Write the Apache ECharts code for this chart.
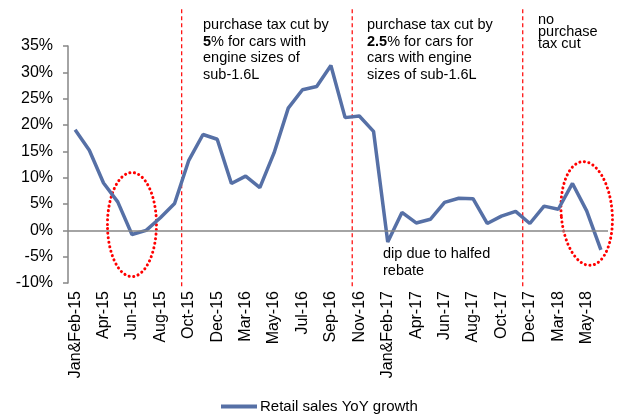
<!DOCTYPE html>
<html><head><meta charset="utf-8">
<script src="https://cdn.jsdelivr.net/npm/echarts@6/dist/echarts.min.js"></script>
<style>html,body{margin:0;padding:0;background:#fff}#c{width:617px;height:414px}</style>
</head><body><div id="c"></div>
<script>
const categories = ['Jan&Feb-15','Mar-15','Apr-15','May-15','Jun-15','Jul-15','Aug-15','Sep-15','Oct-15','Nov-15','Dec-15',
'Jan&Feb-16','Mar-16','Apr-16','May-16','Jun-16','Jul-16','Aug-16','Sep-16','Oct-16','Nov-16','Dec-16',
'Jan&Feb-17','Mar-17','Apr-17','May-17','Jun-17','Jul-17','Aug-17','Sep-17','Oct-17','Nov-17','Dec-17',
'Jan&Feb-18','Mar-18','Apr-18','May-18','Jun-18'];
const retailGrowth = [19.1,15.2,9.0,5.4,-0.8,0.0,2.4,5.1,13.3,18.2,17.3,
8.9,10.3,8.1,14.7,23.2,26.7,27.3,31.3,21.4,21.7,18.8,
-2.2,3.4,1.4,2.1,5.3,6.1,6.0,1.3,2.7,3.6,1.3,
4.6,4.0,8.9,3.7,-3.7];
const seriesName = 'Retail sales YoY growth';
const policyBreaks = [8, 20, 32];
const yMin = -10, yMax = 35, yStep = 5;

const chart = echarts.init(document.getElementById('c'));
const font = 'Liberation Sans, Arial, sans-serif';
chart.setOption({
  animation: false,
  grid: {left: 68, right: 9, top: 46, bottom: 131},
  xAxis: [{
    type: 'category', data: categories, boundaryGap: true,
    axisLine: {show: false}, axisTick: {show: false},
    axisLabel: {rotate: 90, interval: 1, margin: 8, color: '#000', fontSize: 16, fontFamily: font}
  }, {
    type: 'value', min: 0, max: categories.length, show: false
  }],
  yAxis: {
    type: 'value', min: yMin, max: yMax, interval: yStep,
    axisLine: {show: true, lineStyle: {color: '#868686', width: 1.5}},
    axisTick: {show: true, length: 5, lineStyle: {color: '#868686', width: 1.5}},
    splitLine: {show: false},
    axisLabel: {formatter: '{value}%', margin: 15, color: '#000', fontSize: 16, fontFamily: font}
  },
  legend: {
    data: [seriesName], left: 216, top: 394, icon: 'rect', itemWidth: 36, itemHeight: 4, itemGap: 4,
    textStyle: {color: '#000', fontSize: 15, fontFamily: font, padding: [0,0,0,-2]}
  },
  series: [{
    name: seriesName, type: 'line', data: retailGrowth, symbol: 'none', clip: false,
    lineStyle: {color: '#5670A6', width: 3.5}, itemStyle: {color: '#5670A6'},
    markLine: {
      silent: true, symbol: 'none', label: {show: false},
      lineStyle: {color: '#868686', type: 'solid', width: 1.5},
      data: [{yAxis: 0}]
    }
  }]
});

function px(i, v) { return chart.convertToPixel({xAxisIndex: 0, yAxisIndex: 0}, [i, v]); }
const e1 = px(4.2, 1.1), e2 = px(36.1, 3.2);
const ellStyle = {fill: null, stroke: '#FF0000', lineWidth: 3, lineDash: [0.1, 4.5], lineCap: 'round'};
const txt = {fontSize: 14.5, fontFamily: font, fill: '#000', lineHeight: 16.5};
const yTop = chart.convertToPixel({yAxisIndex: 0}, 42);
const yBot = chart.convertToPixel({yAxisIndex: 0}, -10.8);
const breakLines = policyBreaks.map(b => {
  const x = chart.convertToPixel({xAxisIndex: 1}, b);
  return {type: 'line', silent: true, shape: {x1: x, y1: yTop, x2: x, y2: yBot},
    style: {stroke: '#FF0000', lineWidth: 1.2, lineDash: [4, 3]}};
});
chart.setOption({graphic: breakLines.concat([
  {type: 'ellipse', shape: {cx: e1[0], cy: e1[1], rx: 24.5, ry: 52}, style: ellStyle, silent: true},
  {type: 'ellipse', shape: {cx: e2[0], cy: e2[1], rx: 25.5, ry: 52}, style: ellStyle, silent: true, rotation: 0.08, originX: e2[0], originY: e2[1]},
  {type: 'text', left: 203, top: 17, style: Object.assign({}, txt, {
    text: 'purchase tax cut by\n{b|5}% for cars with\nengine sizes of\nsub-1.6L',
    rich: {b: {fontWeight: 'bold', fontSize: 14.5, fontFamily: font}}})},
  {type: 'text', left: 367, top: 17, style: Object.assign({}, txt, {
    text: 'purchase tax cut by\n{b|2.5}% for cars for\ncars with engine\nsizes of sub-1.6L',
    rich: {b: {fontWeight: 'bold', fontSize: 14.5, fontFamily: font}}})},
  {type: 'text', left: 538, top: 12, style: Object.assign({}, txt, {lineHeight: 12, text: 'no\npurchase\ntax cut'})},
  {type: 'text', left: 383, top: 246, style: Object.assign({}, txt, {text: 'dip due to halfed\nrebate'})}
])});
</script></body></html>
